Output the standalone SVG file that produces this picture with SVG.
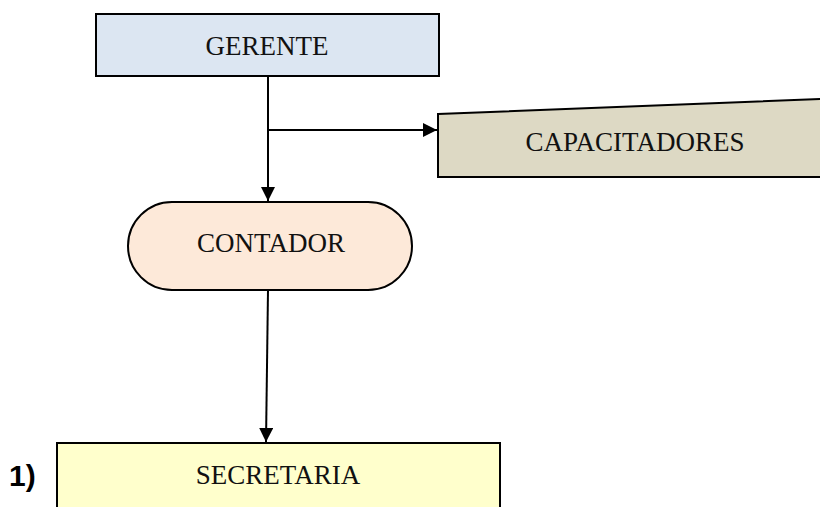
<svg xmlns="http://www.w3.org/2000/svg" width="820" height="507" viewBox="0 0 820 507">
<style>
.n{stroke:#000;stroke-width:2}
.t{font-family:"Liberation Serif","DejaVu Serif",serif;font-size:27px;fill:#111;text-anchor:middle}
.c{stroke:#000;stroke-width:2;fill:none}
</style>
<defs>
<marker id="a" viewBox="0 0 10 10" refX="10" refY="5" markerWidth="7" markerHeight="7" orient="auto">
<path d="M0,0 L10,5 L0,10 z" fill="#000"/>
</marker>
</defs>
<rect width="820" height="507" fill="#fff"/>
<g id="connectors">
<path class="c" d="M268,76 L268,201" marker-end="url(#a)"/>
<path class="c" d="M268,130 L437,130" marker-end="url(#a)"/>
<path class="c" d="M268,290 L266,442" marker-end="url(#a)"/>
</g>
<g id="gerente">
<rect class="n" x="96" y="14" width="343" height="62" fill="#dce6f2"/>
<text class="t" x="267" y="55">GERENTE</text>
</g>
<g id="capacitadores">
<polygon class="n" points="438,114 821,99 821,177 438,177" fill="#ddd9c4"/>
<text class="t" x="635" y="151">CAPACITADORES</text>
</g>
<g id="contador">
<rect class="n" x="128" y="202" width="284" height="88" rx="44" ry="44" fill="#fde9d9"/>
<text class="t" x="271" y="252">CONTADOR</text>
</g>
<g id="secretaria">
<rect class="n" x="57" y="443" width="443" height="70" fill="#ffffcc"/>
<text class="t" x="278" y="484">SECRETARIA</text>
</g>
<text x="9" y="486" style="font-family:'Liberation Sans',Arial,sans-serif;font-size:30px;font-weight:bold;fill:#000">1)</text>
</svg>
